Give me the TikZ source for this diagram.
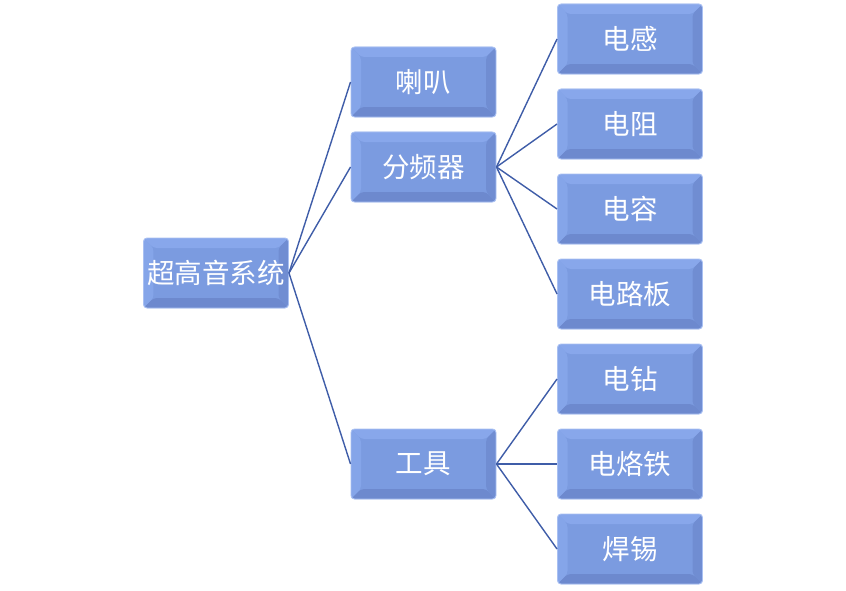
\documentclass[tikz,border=0pt]{standalone}
\usepackage{fontspec}
\newfontfamily\cjk{Noto Sans CJK SC}
\definecolor{boxfill}{HTML}{7B9BE0}
\definecolor{bevlight}{HTML}{88A7EB}
\definecolor{bevdark}{HTML}{6D89CE}
\definecolor{boxrim}{HTML}{A9C0F2}
\definecolor{linkblue}{HTML}{3F5DA8}

\begin{document}
\begin{tikzpicture}[x=0.03cm, y=-0.03cm,
    item/.style={
        draw=boxrim, line width=0.8pt, fill=boxfill, rounded corners=3pt,
        minimum width=4.35cm, minimum height=2.1cm, inner sep=0pt,
        font=\cjk\fontsize{23.5}{26}\selectfont, text=white,
        path picture={
            \fill[bevlight] (path picture bounding box.north west) -- (path picture bounding box.north east)
                -- ([shift={(-0.3cm,-0.3cm)}]path picture bounding box.north east)
                -- ([shift={(0.3cm,-0.3cm)}]path picture bounding box.north west) -- cycle;
            \fill[bevlight!80!boxfill] (path picture bounding box.north west) -- (path picture bounding box.south west)
                -- ([shift={(0.3cm,0.3cm)}]path picture bounding box.south west)
                -- ([shift={(0.3cm,-0.3cm)}]path picture bounding box.north west) -- cycle;
            \fill[bevdark] (path picture bounding box.south west) -- (path picture bounding box.south east)
                -- ([shift={(-0.3cm,0.3cm)}]path picture bounding box.south east)
                -- ([shift={(0.3cm,0.3cm)}]path picture bounding box.south west) -- cycle;
            \fill[bevdark!80!boxfill] (path picture bounding box.north east) -- (path picture bounding box.south east)
                -- ([shift={(-0.3cm,0.3cm)}]path picture bounding box.south east)
                -- ([shift={(-0.3cm,-0.3cm)}]path picture bounding box.north east) -- cycle;
        },
    },
    link/.style={line width=1.2pt, color=linkblue},
]
\useasboundingbox (0,0) rectangle (846,590);

% root
\node[item] (root) at (216,273) {超高音系统};

% first level
\node[item] (laba) at (423.5,82) {喇叭};
\node[item] (fenpin) at (423.5,167) {分频器};
\node[item] (gongju) at (423.5,464) {工具};

% second level
\foreach \name/\lbl/\yy in {gan/电感/39, zu/电阻/124, rong/电容/209, ban/电路板/294,
    zuan/电钻/379, laotie/电烙铁/464, xi/焊锡/549} {
    \node[item] (\name) at (630,\yy) {\lbl};
}

% connectors
\foreach \kid in {laba,fenpin,gongju}
    \draw[link] (root.east) -- (\kid.west);
\foreach \kid in {gan,zu,rong,ban}
    \draw[link] (fenpin.east) -- (\kid.west);
\foreach \kid in {zuan,laotie,xi}
    \draw[link] (gongju.east) -- (\kid.west);

\end{tikzpicture}
\end{document}
